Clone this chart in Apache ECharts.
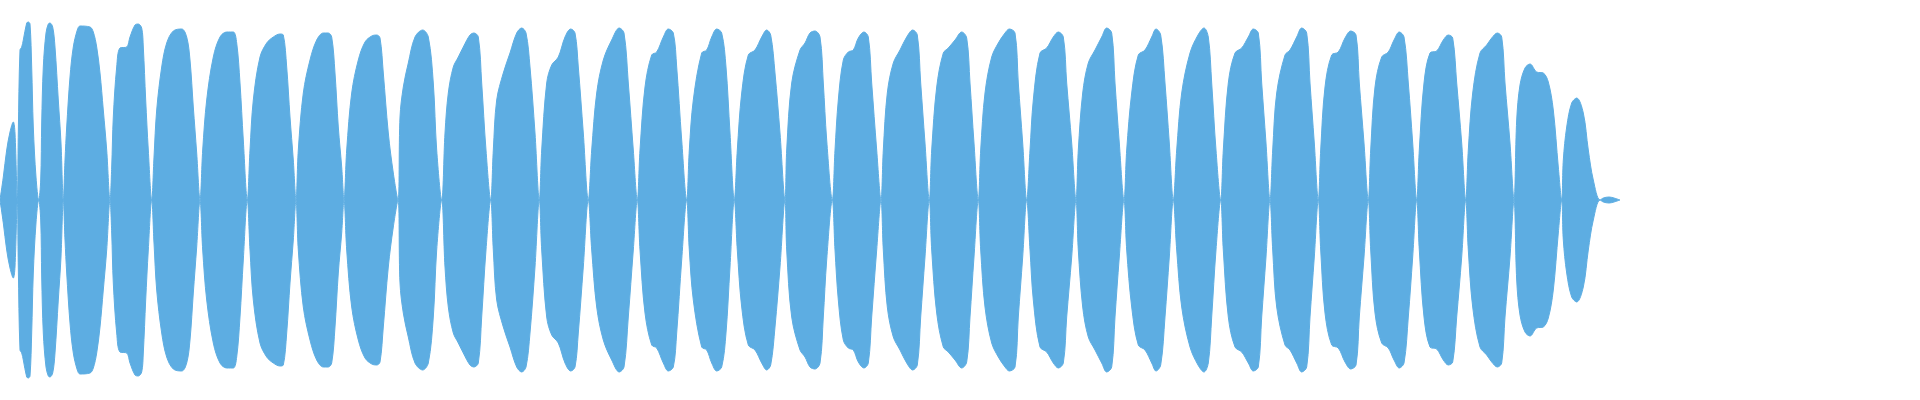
<!DOCTYPE html>
<html>
<head>
<meta charset="utf-8">
<script src="https://cdn.jsdelivr.net/npm/echarts@6/dist/echarts.min.js"></script>
<style>html,body{margin:0;padding:0;background:#fff}#chart{width:1920px;height:400px}</style>
</head>
<body>
<div id="chart"></div>
<script>
// Envelope of the waveform: time positions and amplitudes (mirrored above/below 0)
const envX = [
0,3.3,6.7,10,13.3,15,17.3,
18.3,20,21.7,23.3,26.7,28.3,30,31.7,33.3,36,38.7,
40.7,41.7,43.3,46,48.3,50,52.7,55,58.3,61,63.3,
65,66.7,70,73.3,77.3,80,90,93.3,96.7,100,103.3,106.7,110,
111.7,113.3,116.7,120,126.7,130,135,138.3,141.7,143.3,145.7,148.3,151.7,
154,156.7,161.7,166.7,173.3,181.7,186.7,190,193.3,196.7,200,
202.7,206.7,213.3,220,226.7,233.3,236.7,240,243.3,247.3,
250,253.3,260,266.7,273.3,280,283.3,286.7,290,293.3,296,
298.3,303.3,310,316.7,323.3,328.3,331.7,335,338.3,341.7,344,
346.7,351.7,358.3,365,371.7,376.7,380,383.3,388.3,393.3,398,
400,403.3,408.3,415,422.7,428.3,433.3,436.7,441.7,
445,448.3,453.3,458.3,463.3,470,474,478.3,481.7,486,490.7,
493.3,496.7,503.3,510,516.7,521.7,526,530,535,539.3,
541.7,546.7,551.7,558.3,565,570.7,575,578.3,583.3,588.3,
591.7,596.7,603.3,611.7,619.3,624,628.3,633.3,637.3,
640,645,651.7,656.7,663.3,668.3,673.3,676.7,681.7,686.7,
689.3,693.3,701.7,706.7,711.7,716.7,721.7,726,730,734.3,
737.3,741.7,748.3,755,761.7,766.7,770.7,775,780,785,
786.7,791.7,800,805,810,815,820,823.3,826.7,832.3,
835,838.3,843.3,848.3,853.3,858.3,864,868.3,871.7,876.7,881,
883.3,887.3,893.3,900,906.7,912.7,917.3,920.7,925,929.3,
931.7,936.7,943.3,948.3,955,961.7,966.7,970,974,978.3,
980.7,985,991.7,998.3,1005,1009.3,1015,1018.3,1022.7,1026.7,
1030,1033.3,1040,1046.7,1053.3,1058.3,1063.3,1066.7,1071.7,1076,
1078.3,1082.7,1088.3,1095,1101.7,1106.7,1111.7,1115,1119.3,1124,
1126.7,1131.7,1138.3,1145,1151.7,1156,1160.7,1165,1169.3,1173.3,
1176.7,1181.7,1190,1198,1204,1208.3,1211.7,1216,1220.7,
1223.3,1228.3,1235,1241.7,1248.3,1253.3,1258.3,1261.7,1266,1270,
1272.7,1276.7,1285,1290,1296.7,1301.7,1306.7,1310,1314.3,1318.3,
1320.7,1325,1331.7,1338.3,1345,1350.7,1356,1359.3,1364,1368.3,
1370.7,1375,1381.7,1388.3,1394,1399.3,1404,1408.3,1412.7,1416.7,
1419.3,1424,1430,1436.7,1443.3,1448.3,1452.7,1456.7,1461.7,1465.7,
1468.3,1472.7,1480,1486.7,1491.7,1497.3,1501.7,1505,1510,1514,
1516.7,1520,1525,1530,1536.7,1543.3,1548.3,1553.3,1558.3,1561.7,
1563.3,1566.7,1571.7,1576.7,1583.3,1588.3,1593.3,1600,
1603.3,1609,1614,1620
];
const envY = [
0,23,50,68,78,67,0,
67,150,153,160,177,178,176,133,73,23,0,
20,77,133,167,176,177,173,153,100,57,0,
40,73,123,153,170,174,173,168,153,127,90,50,0,
33,83,133,152,153,163,175,176,172,153,100,50,0,
43,90,133,157,169,171,163,140,93,47,0,
50,100,143,163,168,168,157,117,60,0,
50,100,143,157,163,166,165,133,83,40,0,
50,107,140,160,167,167,163,127,73,33,0,
50,107,140,158,164,165,162,127,67,27,0,
83,113,137,163,170,163,117,50,0,
67,107,133,143,153,165,167,163,117,50,0,
50,100,127,147,167,172,167,133,67,0,
50,117,135,143,163,171,167,133,67,0,
50,107,140,160,172,167,117,50,0,
50,113,145,148,163,171,167,133,60,0,
50,100,147,150,163,171,167,133,67,0,
50,107,145,150,163,170,165,127,67,0,
50,117,150,157,167,169,163,117,60,0,
50,100,140,148,150,162,168,163,117,50,0,
50,107,137,150,163,170,165,117,57,0,
50,113,147,152,160,168,162,117,57,0,
50,107,143,157,167,171,167,117,57,0,
50,100,147,152,163,168,163,117,57,0,
50,107,137,150,163,172,167,117,57,0,
50,107,145,150,163,171,165,117,57,0,
50,107,147,165,172,163,117,50,0,
50,117,147,152,163,171,167,117,57,0,
50,107,145,150,163,172,167,117,57,0,
50,113,145,148,162,169,165,117,57,0,
50,113,143,148,160,168,163,117,57,0,
50,117,147,149,160,165,162,117,57,0,
50,107,147,155,162,167,163,117,57,0,
80,115,132,136,128,127,118,90,33,0,
40,73,97,102,87,50,20,0,
2,3,2,0
];

const upperData = envX.map((x, i) => [x, envY[i]]);
const lowerData = envX.map((x, i) => [x, -envY[i]]);
const waveColor = '#5DADE2';

const chart = echarts.init(document.getElementById('chart'), null, {renderer: 'canvas'});
chart.setOption({
  animation: false,
  grid: {left: 0, right: 0, top: 0, bottom: 0},
  xAxis: {type: 'value', min: 0, max: 1920, show: false},
  yAxis: {type: 'value', min: -200, max: 200, show: false},
  series: [
    {type: 'line', data: upperData, smooth: 0.35, symbol: 'none',
     lineStyle: {color: waveColor, width: 1}, areaStyle: {color: waveColor, opacity: 1}},
    {type: 'line', data: lowerData, smooth: 0.35, symbol: 'none',
     lineStyle: {color: waveColor, width: 1}, areaStyle: {color: waveColor, opacity: 1}}
  ]
});
</script>
</body>
</html>
